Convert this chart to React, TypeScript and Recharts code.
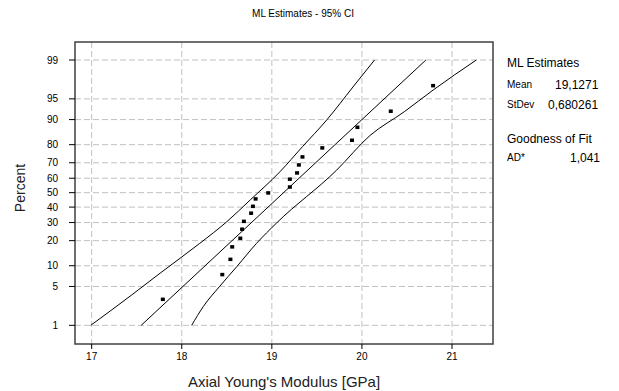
import {
  ComposedChart,
  Line,
  Scatter,
  XAxis,
  YAxis,
  CartesianGrid,
  ReferenceArea,
} from 'recharts';

// observed values (GPa) with their plotted percent
const obsX = [
  17.79, 18.45, 18.54, 18.56, 18.65, 18.67, 18.69, 18.77, 18.79, 18.82, 18.96,
  19.2, 19.2, 19.28, 19.3, 19.34, 19.56, 19.89, 19.95, 20.32, 20.79,
];
const obsPct = [
  3.1, 7.6, 12.2, 17.2, 21.3, 26.2, 30.9, 36.1, 40.7, 45.8, 50.0,
  54.1, 59.5, 63.7, 68.8, 73.6, 78.5, 82.2, 87.5, 92.4, 97.0,
];

// fitted line ends
const fitX = [17.55, 20.71];
const fitPct = [1, 99];

// 95% CI bounds
const upperX = [16.99, 17.44, 17.76, 18.2, 18.5, 18.76, 19.09, 19.34, 19.61, 19.9, 20.14];
const upperPct = [1, 3.6, 7.9, 18.7, 30.5, 44.9, 64.3, 79.0, 89.9, 96.8, 99];
const lowerX = [18.11, 18.24, 18.42, 18.61, 18.83, 19.05, 19.72, 20.09, 20.47, 20.79, 21.27];
const lowerPct = [1, 2.3, 5.0, 9.7, 18.7, 29.6, 65.4, 84.2, 92.2, 96.4, 99];

const xTicks = [17, 18, 19, 20, 21];
const pctTicks = [1, 5, 10, 20, 30, 40, 50, 60, 70, 80, 90, 95, 99];

// inverse normal cdf (Acklam) - used as the probability scale
function probit(p: number) {
  const a = [-39.6968302866538, 220.946098424521, -275.928510446969, 138.357751867269, -30.6647980661472, 2.50662827745924];
  const b = [-54.4760987982241, 161.585836858041, -155.698979859887, 66.8013118877197, -13.2806815528857];
  const c = [-0.00778489400243029, -0.322396458041136, -2.40075827716184, -2.54973253934373, 4.37466414146497, 2.93816398269878];
  const d = [0.00778469570904146, 0.32246712907004, 2.445134137143, 3.75440866190742];
  const pl = 0.02425;
  if (p < pl) {
    const q = Math.sqrt(-2 * Math.log(p));
    return (((((c[0] * q + c[1]) * q + c[2]) * q + c[3]) * q + c[4]) * q + c[5]) /
      ((((d[0] * q + d[1]) * q + d[2]) * q + d[3]) * q + 1);
  }
  if (p > 1 - pl) {
    const q = Math.sqrt(-2 * Math.log(1 - p));
    return -(((((c[0] * q + c[1]) * q + c[2]) * q + c[3]) * q + c[4]) * q + c[5]) /
      ((((d[0] * q + d[1]) * q + d[2]) * q + d[3]) * q + 1);
  }
  const q = p - 0.5;
  const r = q * q;
  return (((((a[0] * r + a[1]) * r + a[2]) * r + a[3]) * r + a[4]) * r + a[5]) * q /
    (((((b[0] * r + b[1]) * r + b[2]) * r + b[3]) * r + b[4]) * r + 1);
}

const toPts = (xs: number[], ps: number[]) => xs.map((x, i) => ({ x, z: probit(ps[i] / 100) }));

const obsData = toPts(obsX, obsPct);
const fitData = toPts(fitX, fitPct);
const upperData = toPts(upperX, upperPct);
const lowerData = toPts(lowerX, lowerPct);
const zTicks = pctTicks.map((p) => probit(p / 100));

const fmtPct = (v: number) => {
  const i = zTicks.findIndex((z) => Math.abs(z - v) < 1e-6);
  return i >= 0 ? String(pctTicks[i]) : '';
};

const Dot = (props: any) => {
  const { cx, cy } = props;
  return <rect x={cx - 2} y={cy - 1.5} width={4} height={3.5} fill="#000" />;
};

const txt: React.CSSProperties = {
  position: 'absolute',
  fontFamily: 'Arial, "Liberation Sans", sans-serif',
  color: '#000',
  whiteSpace: 'nowrap',
  lineHeight: 1,
};

export default function App() {
  const tickStyle = { fontSize: 10, fill: '#000', fontFamily: 'Arial, "Liberation Sans", sans-serif' };
  return (
    <div style={{ position: 'fixed', left: 0, top: 0, width: 619, height: 391, background: '#fff' }}>
      <ComposedChart width={619} height={391} margin={{ top: 42, right: 126, bottom: 0, left: 30 }}>
        <CartesianGrid strokeDasharray="6 3" stroke="#c0c0c0" horizontalValues={zTicks} verticalValues={xTicks} />
        <XAxis
          type="number"
          dataKey="x"
          domain={[16.815, 21.455]}
          ticks={xTicks}
          interval={0}
          allowDataOverflow
          axisLine={false}
          tickSize={5}
          tickLine={{ stroke: '#000' }}
          tick={tickStyle}
          tickMargin={4}
          height={47}
        />
        <YAxis
          type="number"
          dataKey="z"
          domain={[-2.654, 2.642]}
          ticks={zTicks}
          interval={0}
          allowDataOverflow
          axisLine={false}
          tickSize={6}
          tickLine={{ stroke: '#000' }}
          tick={tickStyle}
          tickMargin={11}
          tickFormatter={fmtPct}
          width={45}
        />
        <ReferenceArea x1={16.815} x2={21.455} y1={-2.654} y2={2.642} fill="none" stroke="#404040" strokeWidth={1.5} />
        <Line data={upperData} dataKey="z" type="monotone" stroke="#000" strokeWidth={1} dot={false} isAnimationActive={false} />
        <Line data={fitData} dataKey="z" type="linear" stroke="#000" strokeWidth={1} dot={false} isAnimationActive={false} />
        <Line data={lowerData} dataKey="z" type="monotone" stroke="#000" strokeWidth={1} dot={false} isAnimationActive={false} />
        <Scatter data={obsData} dataKey="z" shape={<Dot />} isAnimationActive={false} />
      </ComposedChart>

      <div style={{ ...txt, left: 0, width: 606, top: 9, textAlign: 'center', fontSize: 10 }}>ML Estimates - 95% CI</div>
      <div style={{ ...txt, left: 0, width: 568, top: 374, textAlign: 'center', fontSize: 15, color: '#222' }}>
        Axial Young's Modulus [GPa]
      </div>
      <div
        style={{
          ...txt,
          left: 20,
          top: 188,
          fontSize: 14,
          color: '#222',
          transform: 'translate(-50%, -50%) rotate(-90deg)',
        }}
      >
        Percent
      </div>

      <div style={{ ...txt, left: 507, top: 57, fontSize: 12 }}>ML Estimates</div>
      <div style={{ ...txt, left: 507, top: 80, fontSize: 10 }}>Mean</div>
      <div style={{ ...txt, left: 555, top: 79, fontSize: 12 }}>19,1271</div>
      <div style={{ ...txt, left: 507, top: 100, fontSize: 10 }}>StDev</div>
      <div style={{ ...txt, left: 548, top: 99, fontSize: 12 }}>0,680261</div>
      <div style={{ ...txt, left: 507, top: 133, fontSize: 12 }}>Goodness of Fit</div>
      <div style={{ ...txt, left: 507, top: 153, fontSize: 10 }}>AD*</div>
      <div style={{ ...txt, left: 570, top: 152, fontSize: 12 }}>1,041</div>
    </div>
  );
}
